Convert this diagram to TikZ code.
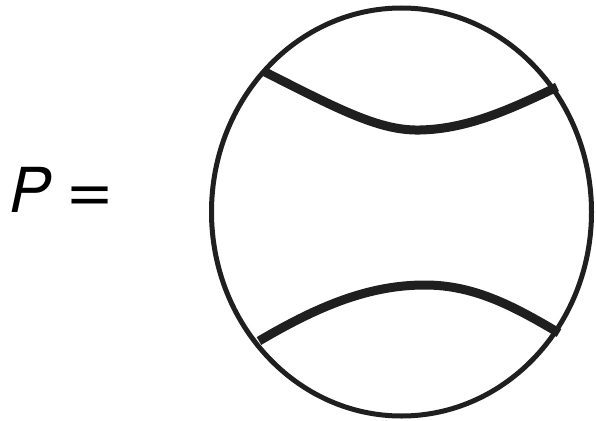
\documentclass[tikz,border=0pt]{standalone}
\usepackage{fontspec}
\setmainfont{TeX Gyre Heros}
\begin{document}
\begin{tikzpicture}[x=1pt,y=-1pt,
  rim/.style={line width=5pt,draw=black!88},
  strand/.style={line width=9pt,draw=black!88},
  lbl/.style={inner sep=0pt,font=\fontsize{62}{62}\selectfont}]
\useasboundingbox (0,0) rectangle (596,420);
\node[lbl,anchor=base west] (P) at (9,212) {\itshape P};
\node[lbl,anchor=base west] (eq) at (66,212) {\scalebox{1.3}[1.1]{=}};
\draw[rim] (401.5,212) ellipse [x radius=190, y radius=204];
\coordinate (tl) at (265,72);
\coordinate (tm) at (420,130);
\coordinate (tr) at (557,87);
\coordinate (bl) at (259,341);
\coordinate (bm) at (425,285);
\coordinate (br) at (559,333);
\draw[strand] (tl) .. controls (340,110) and (380,131) .. (tm)
  .. controls (465,129) and (505,112) .. (tr);
\draw[strand] (bl) .. controls (320,305) and (370,285) .. (bm)
  .. controls (475,285) and (515,307) .. (br);
\end{tikzpicture}
\end{document}
